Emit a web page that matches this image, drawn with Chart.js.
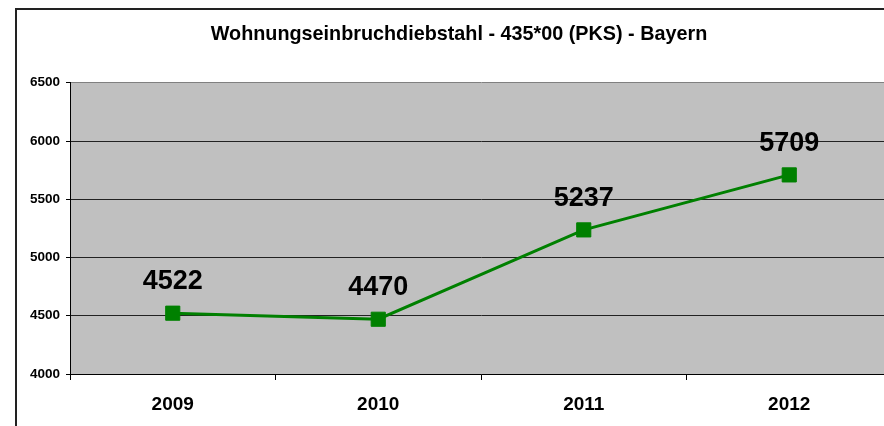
<!DOCTYPE html>
<html>
<head>
<meta charset="utf-8">
<script src="https://cdn.jsdelivr.net/npm/chart.js@4.4.0/dist/chart.umd.min.js"></script>
<style>
  html, body { margin: 0; padding: 0; overflow: hidden; background: #fff; }
  canvas { position: absolute; left: 0; top: 0; }
</style>
</head>
<body>
<canvas id="chart" width="920" height="440"></canvas>
<script>
// data
const years = ['2009', '2010', '2011', '2012'];
const cases = [4522, 4470, 5237, 5709];
const yMin = 4000;
const yMax = 6500;
const yStep = 500;
const chartTitle = 'Wohnungseinbruchdiebstahl - 435*00 (PKS) - Bayern';

// gray plot area + outer frame
const background = {
  id: 'background',
  beforeDraw(chart) {
    const { ctx, chartArea: a } = chart;
    ctx.save();
    ctx.fillStyle = '#fff';
    ctx.fillRect(0, 0, chart.width, chart.height);
    ctx.fillStyle = '#c0c0c0';
    ctx.fillRect(a.left, a.top, a.right - a.left, a.bottom - a.top);
    ctx.strokeStyle = '#222';
    ctx.lineWidth = 2;
    ctx.strokeRect(16, 9, chart.width, chart.height);
    ctx.restore();
  }
};

// value labels above the markers
const valueLabels = {
  id: 'valueLabels',
  afterDatasetsDraw(chart) {
    const { ctx } = chart;
    const meta = chart.getDatasetMeta(0);
    ctx.save();
    ctx.font = 'bold 27px Arial, "Liberation Sans", sans-serif';
    ctx.fillStyle = '#000';
    ctx.textAlign = 'center';
    ctx.textBaseline = 'alphabetic';
    meta.data.forEach((pt, i) => {
      ctx.fillText(String(cases[i]), pt.x, pt.y - 24);
    });
    ctx.restore();
  }
};

new Chart(document.getElementById('chart'), {
  type: 'line',
  data: {
    labels: years,
    datasets: [{
      data: cases,
      borderColor: '#008000',
      backgroundColor: '#008000',
      borderWidth: 3,
      tension: 0,
      pointStyle: 'rect',
      pointRadius: 10,
      pointBorderWidth: 1,
      pointBorderColor: '#008000',
      pointBackgroundColor: '#008000'
    }]
  },
  options: {
    responsive: false,
    devicePixelRatio: 1,
    animation: false,
    layout: { padding: { left: 26, right: 28, top: 0, bottom: 0 } },
    plugins: {
      legend: { display: false },
      tooltip: { enabled: false },
      title: {
        display: true,
        text: chartTitle,
        color: '#000',
        font: { family: 'Arial, "Liberation Sans", sans-serif', size: 19.8, weight: 'bold' },
        padding: { top: 23, bottom: 36 }
      }
    },
    scales: {
      x: {
        offset: true,
        grid: {
          offset: true,
          drawOnChartArea: false,
          drawTicks: true,
          tickLength: 6,
          tickColor: '#000'
        },
        border: { color: '#000', width: 1 },
        ticks: {
          color: '#000',
          padding: 13,
          font: { family: 'Arial, "Liberation Sans", sans-serif', size: 19, weight: 'bold' }
        },
        afterFit(scale) { scale.height = 66; }
      },
      y: {
        min: yMin,
        max: yMax,
        grid: {
          color: (c) => (c.tick && c.tick.value === yMax ? '#808080' : '#222'),
          lineWidth: 1,
          tickLength: 4,
          tickColor: '#000'
        },
        border: { color: '#000', width: 1 },
        ticks: {
          stepSize: yStep,
          color: '#000',
          padding: 6,
          callback: (v) => String(v),
          font: { family: 'Arial, "Liberation Sans", sans-serif', size: 13.5, weight: 'bold' }
        },
        afterFit(scale) { scale.width = 44; }
      }
    }
  },
  plugins: [background, valueLabels]
});
</script>
</body>
</html>
